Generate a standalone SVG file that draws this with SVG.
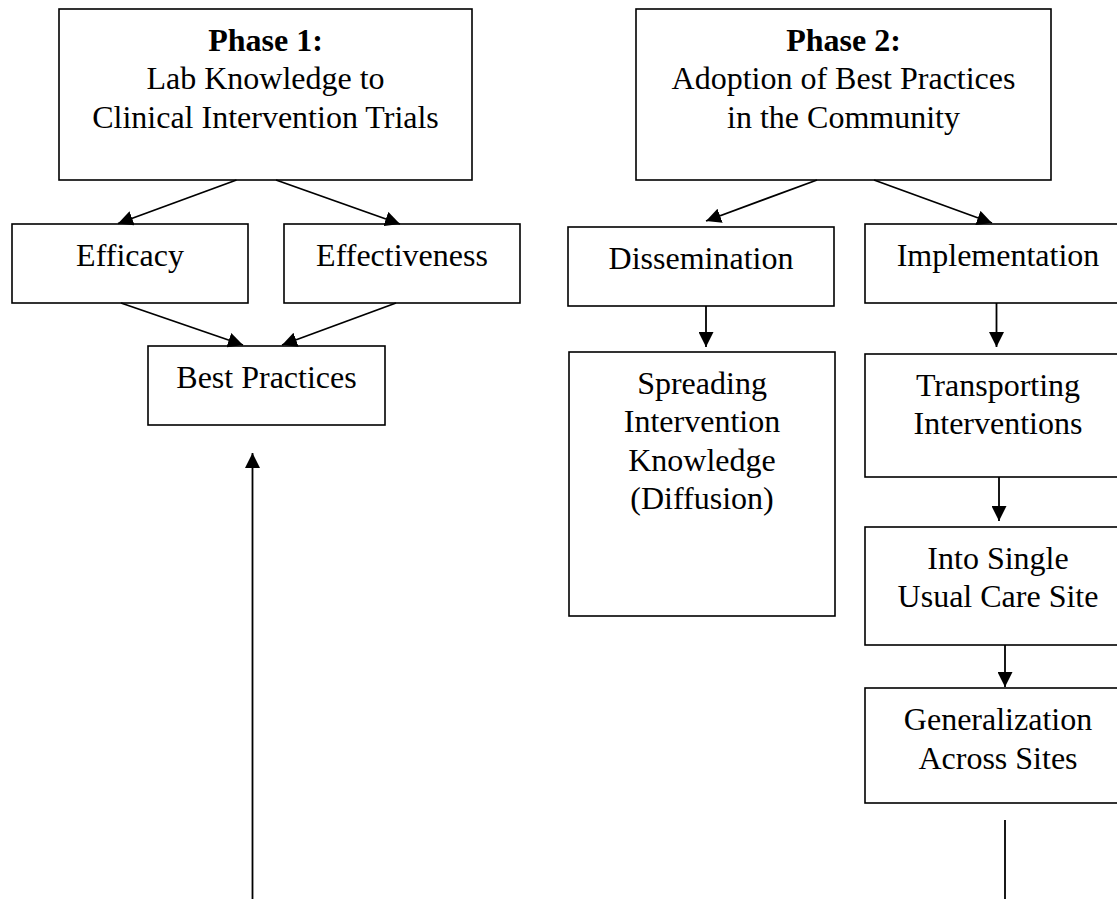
<svg xmlns="http://www.w3.org/2000/svg" width="1117" height="899" viewBox="0 0 1117 899">
<style>
.box{fill:#fff;stroke:#000;stroke-width:1.6}
.t{font-family:"Liberation Serif","Times New Roman",serif;font-size:32px;fill:#000;text-anchor:middle}
.b{font-weight:bold}
.c{stroke:#000;stroke-width:1.8;fill:none}
.a{marker-end:url(#ah)}
</style>
<defs>
<marker id="ah" markerUnits="userSpaceOnUse" markerWidth="16" markerHeight="15" refX="15" refY="7.5" orient="auto">
<path d="M0,0 L15,7.5 L0,15 z" fill="#000"/>
</marker>
</defs>
<rect width="1117" height="899" fill="#fff"/>
<g id="phase1">
<rect class="box" x="59" y="9" width="413" height="171"/>
<text class="t b" x="265.5" y="50.5">Phase 1:</text>
<text class="t" x="265.5" y="89">Lab Knowledge to</text>
<text class="t" x="265.5" y="127.5">Clinical Intervention Trials</text>
</g>
<g id="phase2">
<rect class="box" x="636" y="9" width="415" height="171"/>
<text class="t b" x="843.5" y="50.5">Phase 2:</text>
<text class="t" x="843.5" y="89">Adoption of Best Practices</text>
<text class="t" x="843.5" y="127.5">in the Community</text>
</g>
<g id="efficacy">
<rect class="box" x="12" y="224" width="236" height="79"/>
<text class="t" x="130" y="266">Efficacy</text>
</g>
<g id="effectiveness">
<rect class="box" x="284" y="224" width="236" height="79"/>
<text class="t" x="402" y="266">Effectiveness</text>
</g>
<g id="best-practices">
<rect class="box" x="148" y="346" width="237" height="79"/>
<text class="t" x="266.5" y="388">Best Practices</text>
</g>
<g id="dissemination">
<rect class="box" x="568" y="227" width="266" height="79"/>
<text class="t" x="701" y="268.5">Dissemination</text>
</g>
<g id="implementation">
<rect class="box" x="865" y="224" width="266" height="79"/>
<text class="t" x="998" y="265.5">Implementation</text>
</g>
<g id="spreading">
<rect class="box" x="569" y="352" width="266" height="264"/>
<text class="t" x="702" y="393.5">Spreading</text>
<text class="t" x="702" y="432">Intervention</text>
<text class="t" x="702" y="470.5">Knowledge</text>
<text class="t" x="702" y="509">(Diffusion)</text>
</g>
<g id="transporting">
<rect class="box" x="865" y="354" width="266" height="123"/>
<text class="t" x="998" y="395.5">Transporting</text>
<text class="t" x="998" y="434">Interventions</text>
</g>
<g id="single-site">
<rect class="box" x="865" y="527" width="266" height="118"/>
<text class="t" x="998" y="568.5">Into Single</text>
<text class="t" x="998" y="607">Usual Care Site</text>
</g>
<g id="generalization">
<rect class="box" x="865" y="688" width="266" height="115"/>
<text class="t" x="998" y="730">Generalization</text>
<text class="t" x="998" y="768.5">Across Sites</text>
</g>
<g id="connectors">
<line class="c a" x1="236.5" y1="180" x2="118" y2="223.5"/>
<line class="c a" x1="276" y1="180" x2="400" y2="224"/>
<line class="c a" x1="121" y1="303" x2="243" y2="345"/>
<line class="c a" x1="396" y1="303" x2="282" y2="345"/>
<line class="c a" x1="252.5" y1="899" x2="252.5" y2="453"/>
<line class="c a" x1="817" y1="180" x2="706" y2="221"/>
<line class="c a" x1="874" y1="180" x2="992" y2="223"/>
<line class="c a" x1="706" y1="306" x2="706" y2="347"/>
<line class="c a" x1="996.5" y1="303" x2="996.5" y2="347"/>
<line class="c a" x1="999" y1="477" x2="999" y2="521"/>
<line class="c a" x1="1005" y1="645" x2="1005" y2="687"/>
<line class="c" x1="1005" y1="820" x2="1005" y2="899"/>
</g>
</svg>
